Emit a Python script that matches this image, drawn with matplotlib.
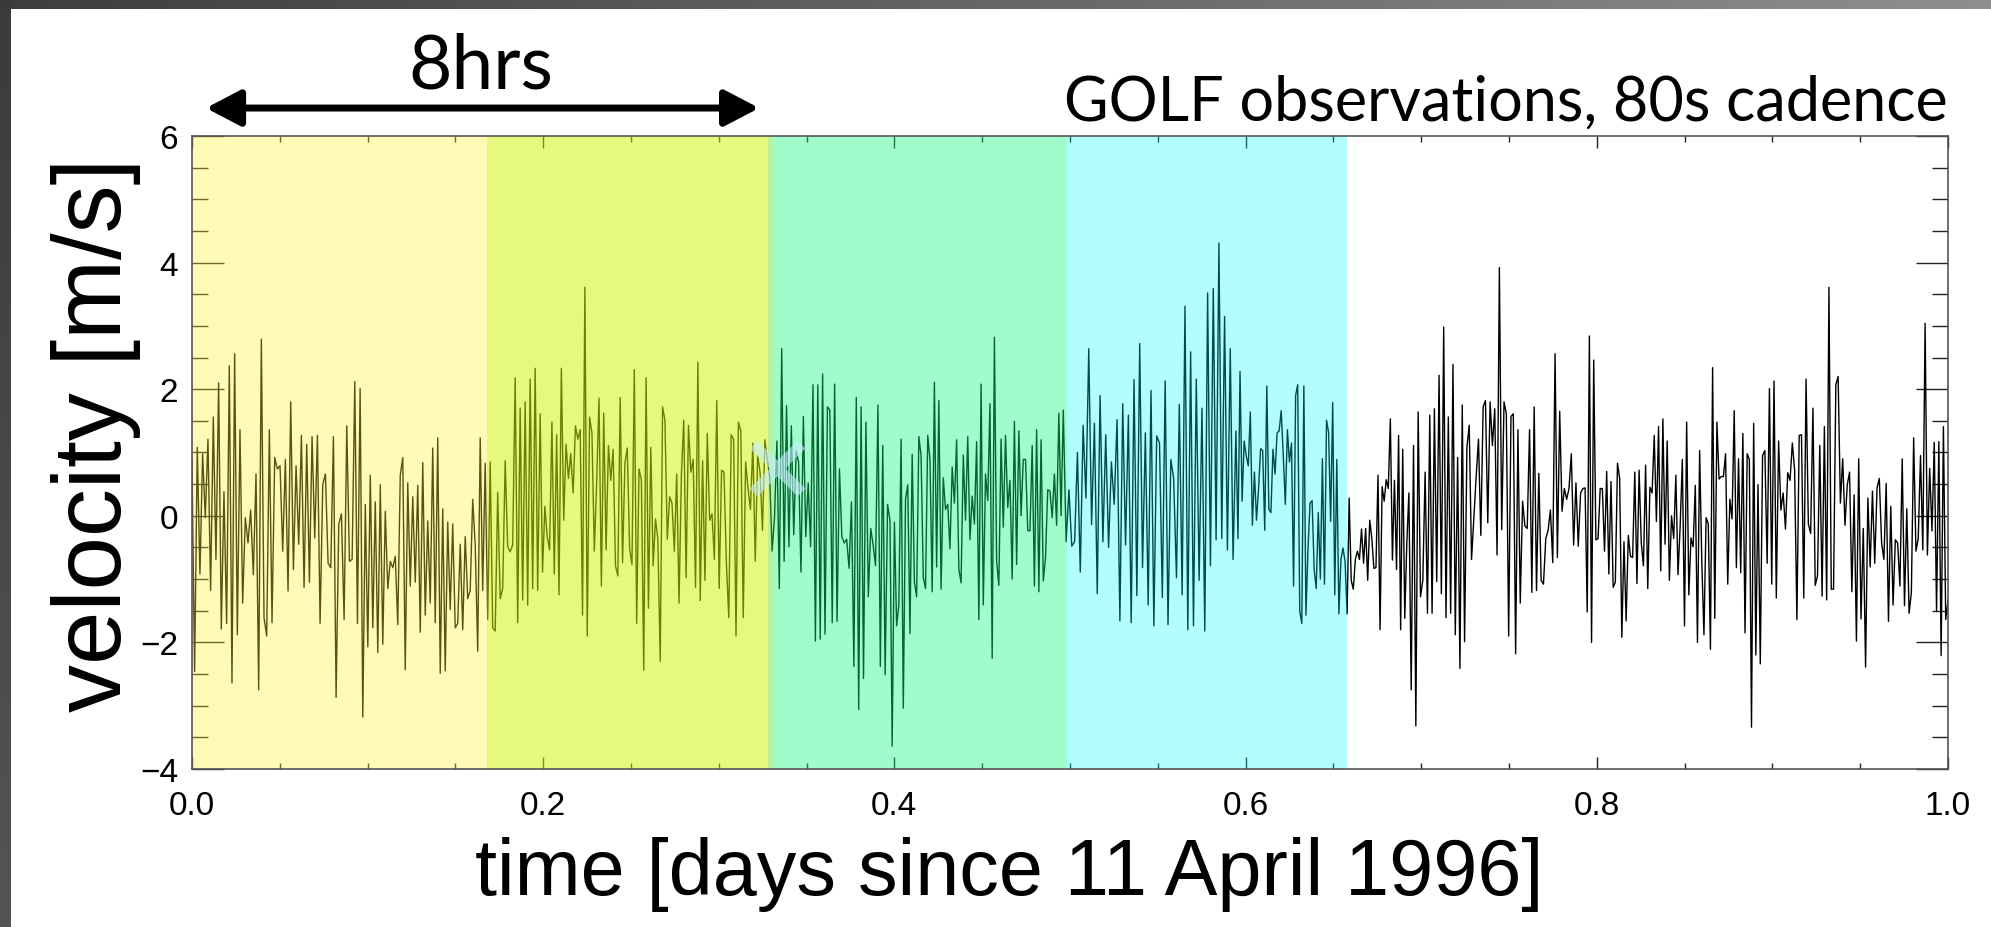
import numpy as np
import matplotlib.pyplot as plt
from matplotlib.ticker import MultipleLocator, FormatStrFormatter

plt.rcParams['font.family'] = ['Liberation Sans', 'DejaVu Sans']

# GOLF velocity residuals [m/s], read in ten consecutive time windows
chunk_edges = [0.0, 0.0973, 0.1983, 0.2975, 0.3975, 0.4962,
               0.5945, 0.6930, 0.7921, 0.8918, 1.0]

vel_chunks = [
    [0.9, -2.46, 1.08, -0.92, 0.98, -0.03, 1.21, -1.18, 1.56, -0.69, 2.10, -1.79,
     0.38, -1.70, 2.37, -2.64, 2.56, -1.88, 1.36, -1.38, -0.03, -0.43, 0.09, -0.93,
     0.66, -2.75, 2.79, -1.61, -1.90, 1.36, -1.69, 0.92, 0.74, 0.79, -0.56, 0.89,
     -1.19, 1.80, -0.85, 0.79, -0.45, 1.27, -1.13, 1.13, -1.05, 1.25, -0.35, 1.27,
     -1.70, 0.49, 0.66, -0.75, -0.82, 1.25, -2.87, -0.13, 0.03, -1.64, 1.42, -0.72,
     -0.69, 2.12, -1.70, 2.01, -3.18],
    [0.18, -2.07, 0.64, -1.77, 0.22, -2.16, 0.49, -2.03, 0.07, -1.15, -0.72, -0.82,
     -0.64, -1.72, 0.64, 0.92, -2.43, 0.52, -1.11, 0.30, -1.05, 0.48, -1.84, 0.84,
     -1.57, -0.08, -1.38, 1.07, -1.69, 1.23, -2.49, 0.11, -2.45, -0.10, -1.48, -0.13,
     -1.77, -1.70, -0.45, -1.80, -0.33, -1.31, -1.18, 0.26, -0.46, -2.14, 1.23, -1.18,
     0.83, -1.64, 0.85, -1.77, -1.82, 0.37, -1.31, -1.15, 0.87, -0.49, -0.57, -0.46,
     2.18, -1.69, 1.70, -1.33, 1.80, -1.41, 2.16, -1.15, 2.33, -1.18, 1.61],
    [-0.89, 0.15, -0.33, -0.54, 1.48, -0.92, 1.28, -1.25, 2.33, -0.07, 1.13, 0.59,
     0.98, 0.36, 1.42, 1.21, 1.36, -1.57, 3.61, -1.90, 1.56, 1.31, -0.56, 0.52,
     1.86, -1.11, 1.62, -0.54, 1.11, 0.56, 1.05, -0.79, -0.95, 1.87, -0.74, 0.83,
     1.07, -0.52, -0.77, 2.31, -1.70, 0.74, 0.56, -2.44, 2.18, -1.46, 1.08, -0.79,
     -0.05, -0.37, -2.30, 1.72, 1.51, -0.37, 0.30, 0.20, -0.56, 0.66, -1.38, 0.66,
     1.51, -0.98, 1.43, 0.69, 0.89, -1.13, 2.43, -1.34, 0.87, -1.02, 1.30, -0.07,
     0.03, -0.69],
    [1.82, -1.15, 0.72, 0.69, -0.75, -1.61, 1.28, 1.21, -1.90, 1.48, 1.34, -1.61,
     0.85, 0.43, 0.10, 1.15, -0.72, 0.95, 0.69, -0.23, 1.20, 0.89, 0.62, -0.56,
     -0.03, 1.18, -1.15, 2.64, -0.72, 1.74, -0.49, 1.42, -0.30, 1.02, 0.85, -0.89,
     1.57, -0.33, 0.52, -0.49, 2.07, -1.98, 2.07, -1.95, 2.24, -1.87, 1.72, 1.67,
     -1.69, 2.08, -1.67, 0.74, -0.33, -0.43, -0.37, -0.83, 0.22, -2.38, 1.87, -3.06,
     1.72, -2.57, 1.48, -1.28, -0.20, -0.46, -0.79, 1.75, -2.38, 1.11, -2.51, 0.18,
     -0.07],
    [-3.64, -0.10, -1.74, -1.41, 1.21, -3.04, 0.26, 0.49, -1.86, 0.97, -1.05, -1.28,
     1.25, 0.95, -0.98, -1.15, 1.27, 0.89, -1.20, 2.11, -0.81, 1.82, -1.16, 0.60,
     0.10, 0.18, -0.52, 0.77, 0.20, 1.20, -0.84, -1.06, 0.96, -0.07, 1.25, -0.38,
     0.31, -0.13, 1.17, -1.64, 2.08, -1.41, 0.66, 0.24, 1.77, -2.25, 2.82, -0.72,
     -1.10, 1.21, -0.18, 1.27, 0.13, 0.56, -1.00, 1.49, -0.77, 1.34, 0.00, 0.89,
     0.89, -0.23, -0.24, 1.11, -1.11, 1.36, -1.20, 1.20, -1.03, -0.66, 0.41, 0.39,
     -0.03, 0.66, -0.15, 1.62, 0.00, 1.67],
    [-0.41, 0.41, -0.48, -0.41, 1.00, -0.89, 1.43, 0.28, 2.64, -0.14, 1.46, -1.23,
     1.90, -0.41, 1.28, -0.50, 0.85, 0.18, 1.52, -1.66, 1.77, -0.46, 1.59, -1.69,
     2.15, -1.26, 2.72, -0.82, 1.31, -1.41, 1.98, -1.74, 1.26, 1.15, -1.29, 2.13,
     -1.72, 0.89, 0.59, -0.98, 1.76, -1.25, 3.31, -1.80, 2.59, -1.74, 2.16, -1.02,
     1.70, -1.82, 3.52, -0.79, 3.59, -0.38, 4.31, -0.36, 3.15, -0.54, 2.64, -0.69,
     1.34],
    [-0.36, 2.28, 0.23, 1.18, 0.95, 0.79, 1.64, -0.15, 0.69, -0.07, 0.43, 1.06,
     1.03, -0.23, 2.05, 0.10, 0.05, 1.05, 0.66, 1.31, 1.34, 1.66, 0.95, 0.18,
     1.36, 0.85, 1.15, -1.11, 1.90, 2.07, -1.51, -1.70, 2.05, -1.57, -0.52, 0.20,
     0.24, -0.85, -1.15, 0.05, -1.00, 0.90, -1.08, 1.51, 1.32, -0.09, 1.79, -1.25,
     0.89, -1.55, -0.69, -0.51, -0.72, -1.55, 0.28, -1.02, -1.16, -0.69, -0.56, -0.69,
     -0.21, -0.75, -0.20, -1.02, -0.07, -0.36, -0.83, -0.82, 0.64, -1.80, 0.46, 0.23,
     0.57, 0.43, 1.53, -0.70, 0.56, -0.85, 1.27, -1.80, 1.05, -1.62, -0.43, 0.36],
    [-2.75, 1.11, -3.32, 1.64, -1.28, -1.02, 0.69, -1.54, 1.59, -1.54, 1.69, -1.04,
     2.22, -1.23, 2.98, -1.61, 1.56, -1.54, 2.39, -1.88, 0.92, -2.41, 1.75, -1.99,
     1.08, 1.43, -0.69, -0.03, 0.62, 1.21, -0.31, 1.72, 1.82, -0.11, 1.80, 1.11,
     1.69, -0.62, 3.92, -0.22, 1.80, 1.61, -1.90, 1.57, 1.61, -2.18, 1.36, -1.38,
     0.23, -0.16, -0.20, 1.36, -1.21, 1.72, -1.18, 0.67, -1.02, -1.08, -0.36, -0.23,
     0.09, -0.74, 2.56, -0.66, 1.65, 0.07, 0.43, 0.26, 0.43, 0.98, -0.46, 0.52,
     -0.48, 0.36, 0.43],
    [0.44, -1.52, 2.84, -2.00, 2.46, -0.38, -0.36, 0.43, 0.43, -0.56, 0.70, -0.92,
     0.54, -1.13, -1.05, 0.83, 0.59, -1.92, -0.41, -1.66, -0.31, -0.64, -0.66, 0.69,
     -1.07, 0.72, -0.43, -0.79, 0.80, -1.15, 0.45, 0.36, 1.27, -0.09, 1.41, -0.87,
     1.53, -0.45, 1.18, -1.02, 0.00, -0.36, 0.64, -0.93, -0.16, 0.89, -1.74, 1.48,
     -1.25, -0.35, -0.49, 0.48, -2.00, 1.03, -0.72, -1.88, -0.03, -0.13, -2.11, 2.34,
     -1.62, 1.48, 0.58, 0.62, 0.62, 0.98, -1.08, 0.26, -0.05, 1.66, -0.82, 0.90,
     -0.90, 1.30, -1.85, 0.98, 0.89, -3.34, 1.46, -2.20, 0.49],
    [-2.34, 0.95, 1.03, -0.75, 2.01, -1.08, 2.13, -1.30, 1.18, 0.09, 0.36, -0.21,
     0.68, 0.56, 1.15, 0.72, -1.64, 1.27, 1.28, -1.30, 2.16, -0.13, -0.28, 1.70,
     -1.10, -0.95, 1.11, -1.27, 1.41, -1.33, 3.61, -1.16, -1.16, 2.07, 2.20, 0.20,
     0.90, -0.15, 0.49, 0.69, -1.20, 0.33, -1.98, 0.90, -1.63, -0.20, -2.39, 0.28,
     -0.81, 0.39, -0.75, 0.44, 0.59, -0.43, -0.69, 0.51, -1.67, 0.15, -1.41, -0.38,
     -0.43, -1.11, 0.90, -1.42, 0.11, -1.54, -1.21, 1.23, -0.56, -0.36, 0.95, -0.54,
     3.04, -0.62, 0.75, -0.24, 1.16, -1.51, 1.17, -2.21, 1.41, -1.64, -1.34],
]

# coloured 4-hour windows laid over the trace
win_start = [0.0, 0.168, 0.328, 0.331, 0.4985]
win_end = [0.168, 0.328, 0.331, 0.4985, 0.658]
win_color = ['#fff32c', '#cff408', '#62e12c', '#12f87b', '#00fcff']
win_alpha = [0.35, 0.52, 0.45, 0.40, 0.30]

# assemble the time axis window by window
time, velocity = [], []
for k, vals in enumerate(vel_chunks):
    t0, t1 = chunk_edges[k], chunk_edges[k + 1]
    n = len(vals)
    if k == 0:
        tt = np.linspace(t0, t1, n)
    else:
        tt = t0 + (t1 - t0) * (np.arange(n) + 1) / n
    time.extend(tt)
    velocity.extend(vals)
time = np.array(time)
velocity = np.array(velocity)

W, H = 1991, 928
fig = plt.figure(figsize=(W / 100, H / 100), dpi=100)

# slide frame: grey bar on top, dark strip on the left
bg = np.ones((H, W, 3))
bar = np.linspace(0.24, 0.56, W)
bg[:10, :, :] = bar[None, :, None]
strip = np.linspace(0.23, 0.33, H)
bg[:, :11, :] = strip[:, None, None]
bg_ax = fig.add_axes([0, 0, 1, 1], zorder=-10)
bg_ax.imshow(bg, aspect='auto', interpolation='nearest')
bg_ax.axis('off')

ax = fig.add_axes([0.0964, 0.1703, 0.882, 0.6821])
ax.set_facecolor('white')

ax.plot(time, velocity, color='black', lw=1.0, zorder=2)
for x0, x1, c, a in zip(win_start, win_end, win_color, win_alpha):
    ax.axvspan(x0, x1, color=c, alpha=a, lw=0, zorder=3)

# faint cross near the second window boundary
ax.plot([0.333], [0.75], marker='x', ms=34, mew=8, color='#c4ecfc',
        alpha=0.6, zorder=4)

ax.set_xlim(0, 1)
ax.set_ylim(-4, 6)
ax.xaxis.set_major_locator(MultipleLocator(0.2))
ax.xaxis.set_minor_locator(MultipleLocator(0.05))
ax.yaxis.set_major_locator(MultipleLocator(2))
ax.yaxis.set_minor_locator(MultipleLocator(0.5))
ax.xaxis.set_major_formatter(FormatStrFormatter('%.1f'))

ax.tick_params(which='both', direction='in', top=True, right=True,
               width=1.0, color='#222222', zorder=5)
ax.tick_params(axis='x', which='major', length=8.6, pad=15, labelsize=24)
ax.tick_params(axis='x', which='minor', length=4.3)
ax.tick_params(axis='y', which='major', length=23, pad=10, labelsize=24)
ax.tick_params(axis='y', which='minor', length=11.5)
for s in ax.spines.values():
    s.set_color('#555555')
    s.set_linewidth(1.2)
    s.set_zorder(6)

fig.text(0.507, 0.0356, 'time [days since 11 April 1996]', fontsize=57,
         ha='center', va='baseline')
fig.text(0.048, 0.531, 'velocity [m/s]', fontsize=69, rotation=90,
         ha='center', va='center')

fig.text(0.2417, 0.905, '8hrs', fontsize=54, family='Lato',
         ha='center', va='baseline')
fig.text(0.9784, 0.8696, 'GOLF observations, 80s cadence', fontsize=44,
         family='Lato', ha='right', va='baseline')

ax.annotate('', xy=(0.323, 0.8825), xytext=(0.008, 0.8825),
            xycoords=('data', 'figure fraction'),
            textcoords=('data', 'figure fraction'),
            arrowprops=dict(arrowstyle='<|-|>,head_length=21,head_width=11',
                            mutation_scale=1, lw=5, color='black',
                            shrinkA=0, shrinkB=0))

fig.savefig('out.png', dpi=100)
